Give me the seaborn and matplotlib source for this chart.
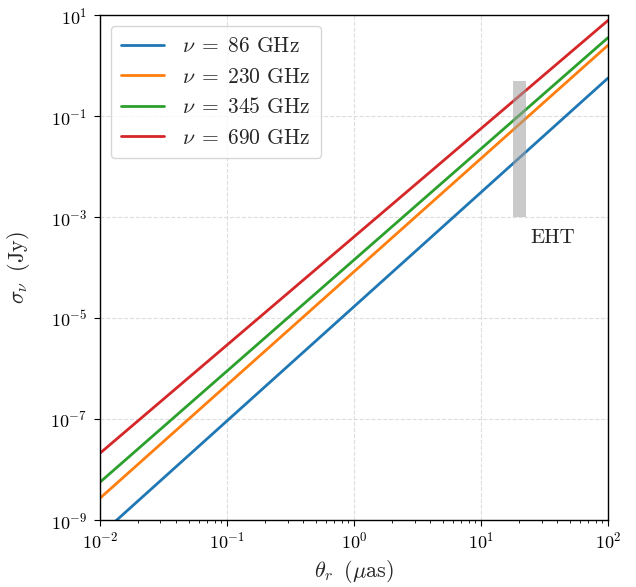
import numpy as np
import pandas as pd
import matplotlib
matplotlib.use("Agg")
import matplotlib.pyplot as plt
from matplotlib.ticker import FixedLocator, NullLocator, LogLocator
import seaborn as sns

# --- data ---
theta_r = [1e-2, 1e2]  # micro-arcsec
freq_labels = [r"$\nu\;=\;86$ GHz", r"$\nu\;=\;230$ GHz",
               r"$\nu\;=\;345$ GHz", r"$\nu\;=\;690$ GHz"]
sigma_86 = [5.0e-10, 0.57]
sigma_230 = [2.7e-9, 2.55]
sigma_345 = [5.6e-9, 3.6]
sigma_690 = [2.1e-8, 7.9]
eht_theta = [18.0, 22.6]
eht_sigma = [1e-3, 0.5]
eht_label = "EHT"

sns.set_style("ticks")
plt.rcParams.update({
    "font.family": "serif",
    "font.serif": ["cmr10", "DejaVu Serif"],
    "mathtext.fontset": "cm",
    "axes.formatter.use_mathtext": True,
    "font.size": 13,
    "axes.edgecolor": "black",
    "axes.linewidth": 1.0,
    "xtick.color": "black",
    "ytick.color": "black",
})

rows = []
for lab, vals in zip(freq_labels, [sigma_86, sigma_230, sigma_345, sigma_690]):
    for t, s in zip(theta_r, vals):
        rows.append({"theta": t, "sigma": s, "freq": lab})
df = pd.DataFrame(rows)

fig = plt.figure(figsize=(6.36, 5.87), dpi=100)
ax = fig.add_axes([0.157, 0.114, 0.799, 0.860])

sns.lineplot(data=df, x="theta", y="sigma", hue="freq", hue_order=freq_labels,
             palette=["#1f77b4", "#ff7f0e", "#2ca02c", "#d62728"],
             linewidth=2.0, ax=ax, legend=True)
ax.set_xscale("log")
ax.set_yscale("log")
ax.set_xlim(1e-2, 1e2)
ax.set_ylim(1e-9, 1e1)

ax.fill_between(eht_theta, [eht_sigma[0]] * 2, [eht_sigma[1]] * 2,
                color="#a0a0a0", alpha=0.55, linewidth=0, zorder=5)
ax.text(24.3, 3.8e-4, eht_label, fontsize=15, va="center", ha="left")

ax.yaxis.set_major_locator(FixedLocator([1e-9, 1e-7, 1e-5, 1e-3, 1e-1, 1e1]))
ax.yaxis.set_minor_locator(NullLocator())
ax.xaxis.set_major_locator(LogLocator(base=10, numticks=10))
ax.xaxis.set_minor_locator(LogLocator(base=10, subs=np.arange(2, 10), numticks=20))

ax.grid(True, which="major", linestyle="--", color="#dddddd", linewidth=0.8)
ax.tick_params(axis="both", which="major", labelsize=13, direction="out", length=4)
ax.tick_params(axis="y", which="major", pad=5)
ax.tick_params(axis="x", which="minor", direction="out", length=2.5)

ax.set_xlabel(r"$\theta_r\;\;(\mu\mathrm{as})$", fontsize=16, labelpad=5)
ax.set_ylabel(r"$\sigma_\nu\;\;(\mathrm{Jy})$", fontsize=16, labelpad=13)

leg = ax.legend(loc="upper left", fontsize=15.5, handlelength=2.0,
                borderpad=0.5, labelspacing=0.5, fancybox=True, framealpha=0.8)
leg.get_frame().set_edgecolor("#cccccc")

fig.savefig("out.png", dpi=100)
